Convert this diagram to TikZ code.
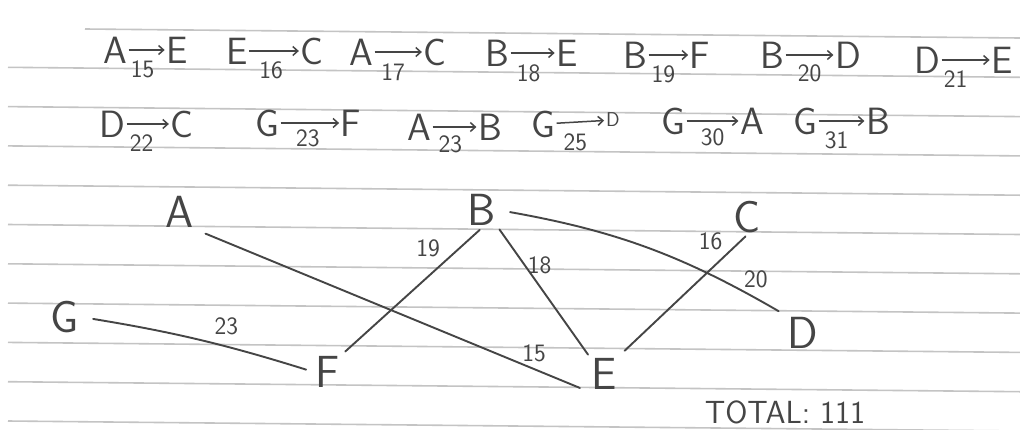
\documentclass[tikz,border=0pt]{standalone}
\usepackage{fontspec}
\usetikzlibrary{arrows.meta}
\definecolor{pencil}{HTML}{454545}
\definecolor{rulecol}{HTML}{C4C4C4}
\begin{document}
\begin{tikzpicture}[x=1pt,y=-1pt,
  lt/.style={font=\sffamily\fontsize{38}{38}\selectfont, text=pencil, inner sep=1.5pt},
  sm/.style={font=\sffamily\fontsize{20}{20}\selectfont, text=pencil, inner sep=2pt},
  gl/.style={font=\sffamily\fontsize{45}{45}\selectfont, text=pencil, inner sep=2pt},
  num/.style={font=\sffamily\fontsize{25}{25}\selectfont, text=pencil, inner sep=1pt},
  arr/.style={draw=pencil, line width=1.5pt, -{Straight Barb[length=5pt,width=9pt]}},
  edge/.style={draw=pencil, line width=1.9pt, line cap=round},
  ruled/.style={draw=rulecol, line width=1.6pt}]
\useasboundingbox (0,0) rectangle (1020,429);
\fill[white] (0,0) rectangle (1020,429);
% ruled paper
\draw[ruled] (85,29) -- (1020,38);
\foreach \i in {1,...,10} \draw[ruled] (8,{28+39.3*\i}) -- (1020,{38+39.3*\i});

% row 1
\node[lt] (r1) at (115,50) {A};
\node[lt] (r2) at (177,50) {E};
\draw[arr] (r1) -- node[num,below=9pt,xshift=-4pt]{15} (r2);
\node[lt] (r3) at (237,51) {E};
\node[lt] (r4) at (312,51) {C};
\draw[arr] (r3) -- node[num,below=9pt,xshift=-3pt]{16} (r4);
\node[lt] (r5) at (361,52) {A};
\node[lt] (r6) at (435,52) {C};
\draw[arr] (r5) -- node[num,below=10pt,xshift=-5pt]{17} (r6);
\node[lt] (r7) at (497,53) {B};
\node[lt] (r8) at (567,53) {E};
\draw[arr] (r7) -- node[num,below=10pt,xshift=-4pt]{18} (r8);
\node[lt] (r9) at (635,55) {B};
\node[lt] (r10) at (700,55) {F};
\draw[arr] (r9) -- node[num,below=9pt,xshift=-5pt]{19} (r10);
\node[lt] (r11) at (772,55) {B};
\node[lt] (r12) at (848,55) {D};
\draw[arr] (r11) -- node[num,below=8pt,xshift=0pt]{20} (r12);
\node[lt] (r13) at (927,60) {D};
\node[lt] (r14) at (1002,60) {E};
\draw[arr] (r13) -- node[num,below=9pt,xshift=-10pt]{21} (r14);

% row 2
\node[lt] (s1) at (112,124) {D};
\node[lt] (s2) at (182,124) {C};
\draw[arr] (s1) -- node[num,below=9pt,xshift=-6pt]{22} (s2);
\node[lt] (s3) at (267,123) {G};
\node[lt] (s4) at (351,123) {F};
\draw[arr] (s3) -- node[num,below=5pt,xshift=-2pt]{23} (s4);
\node[lt] (s5) at (419,127) {A};
\node[lt] (s6) at (490,127) {B};
\draw[arr] (s5) -- node[num,below=7pt,xshift=-4pt]{23} (s6);
\node[lt] (s7) at (543,124) {G};
\node[sm] (s8) at (613,120) {D};
\draw[arr] (s7) -- node[num,below=10pt,xshift=-5pt]{25} (s8);
\node[lt] (s9) at (673,121) {G};
\node[lt] (s10) at (752,121) {A};
\draw[arr] (s9) -- node[num,below=6pt,xshift=0pt]{30} (s10);
\node[lt] (s11) at (805,121) {G};
\node[lt] (s12) at (878,121) {B};
\draw[arr] (s11) -- node[num,below=9pt,xshift=-5pt]{31} (s12);

% graph
\node[gl] (A) at (180,212) {A};
\node[gl] (B) at (482,210) {B};
\node[gl] (C) at (747,217) {C};
\node[gl] (G) at (65,317) {G};
\node[gl] (F) at (328,372) {F};
\node[gl] (E) at (604,374) {E};
\node[gl] (D) at (803,333) {D};

\draw[edge, shorten <=10pt, shorten >=10pt] (A.south east) -- node[num,pos=0.86,yshift=16pt]{15} (E.south west);
\draw[edge, shorten <=12pt, shorten >=8pt] (G.east) to[bend left=4] node[num,pos=0.63,yshift=20pt]{23} (F.west);
\draw[edge, shorten <=4pt, shorten >=3pt] (F.north east) -- node[num,pos=0.8,xshift=-26pt,yshift=5pt]{19} (B.south);
\draw[edge, shorten <=2pt, shorten >=2pt] (B.south east) -- node[num,pos=0.29,xshift=15pt]{18} (E.north west);
\draw[edge, shorten <=12pt, shorten >=8pt] (B.east) to[bend left=10] node[num,pos=0.88,yshift=16pt,xshift=6pt]{20} (D.north west);
\draw[edge, shorten <=8pt, shorten >=2pt] (E.north east) -- node[num,pos=0.95,xshift=-30pt]{16} (C.south);

\node[font=\sffamily\fontsize{32}{32}\selectfont, text=pencil] (total) at (785,412) {TOTAL: 111};
\end{tikzpicture}
\end{document}
